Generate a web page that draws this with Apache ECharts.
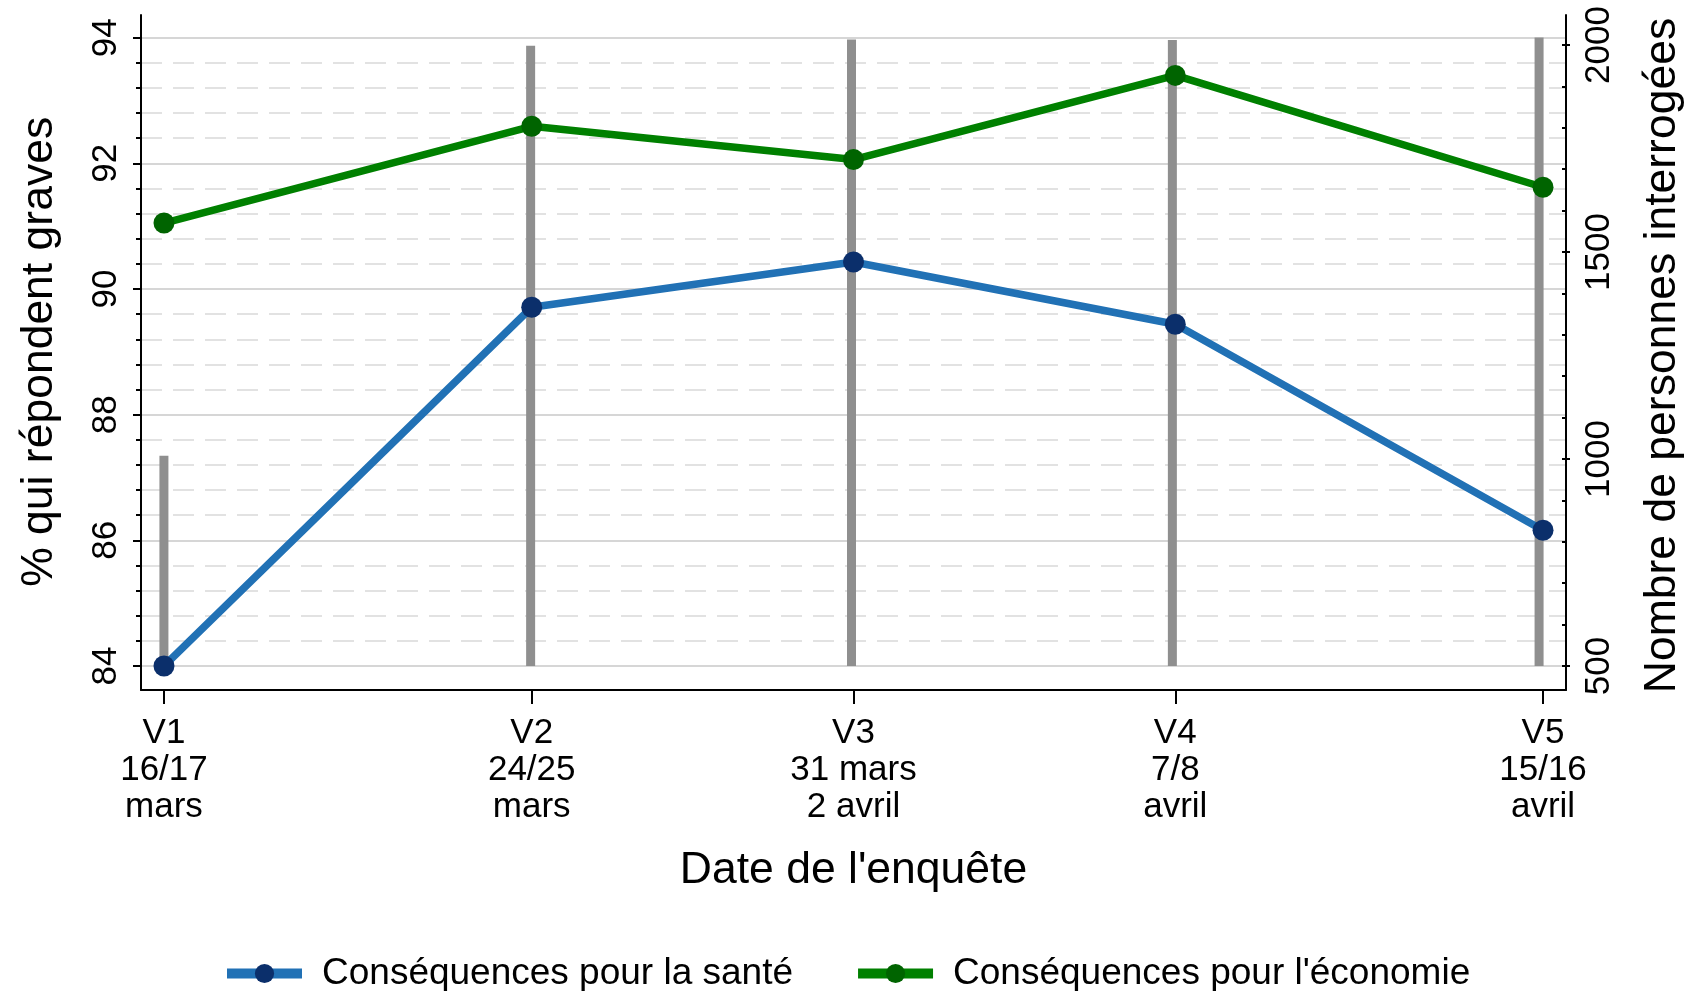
<!DOCTYPE html>
<html>
<head>
<meta charset="utf-8">
<script src="https://cdn.jsdelivr.net/npm/echarts@6/dist/echarts.min.js"></script>
<style>
html,body{margin:0;padding:0;background:#fff;}
#chart{width:1693px;height:991px;}
</style>
</head>
<body>
<div id="chart"></div>
<script>
// Survey waves (x position = day, counted from 1 March)
const waveDays = [17, 25, 32, 39, 47];
const waveLabels = ['V1\n16/17\nmars', 'V2\n24/25\nmars', 'V3\n31 mars\n2 avril', 'V4\n7/8\navril', 'V5\n15/16\navril'];
// % answering "grave"
const santeValues = [84.0, 89.71, 90.43, 89.44, 86.16];
const economieValues = [91.05, 92.59, 92.06, 93.40, 91.62];
// Number of respondents (right axis)
const respondents = [1008, 1998, 2013, 2012, 2018];
const leftTicks = [84, 94, 2];
const rightTicks = [500, 2000, 500];

const FONT = '"Liberation Sans", Arial, Helvetica, sans-serif';
const xMin = 16.5, xMax = 47.5;

const chart = echarts.init(document.getElementById('chart'), null, {renderer: 'canvas'});

const santeData = waveDays.map((d, i) => [d, santeValues[i]]);
const ecoData = waveDays.map((d, i) => [d, economieValues[i]]);
const nData = waveDays.map((d, i) => [d, respondents[i]]);

const option = {
  backgroundColor: '#ffffff',
  animation: false,
  textStyle: {fontFamily: FONT, color: '#000'},
  grid: [
    {left: 141, right: 127, top: 15, bottom: 301},
    {left: 141, right: 127, top: 37.7, bottom: 325},
    {left: 141, right: 127, top: 45, bottom: 325}
  ],
  xAxis: [
    {
      gridIndex: 0, type: 'value', min: xMin, max: xMax,
      axisLine: {show: true, lineStyle: {color: '#000', width: 2}},
      axisTick: {show: true, customValues: waveDays, length: 14, lineStyle: {color: '#000', width: 2}},
      axisLabel: {
        show: true, customValues: waveDays, margin: 25,
        fontSize: 35, lineHeight: 37, color: '#000', fontFamily: FONT, align: 'center',
        formatter: v => waveLabels[waveDays.indexOf(v)]
      },
      splitLine: {show: false},
      name: "Date de l'enquête", nameLocation: 'middle', nameGap: 158,
      nameTextStyle: {fontSize: 44.5, color: '#000', fontFamily: FONT}
    },
    {gridIndex: 1, type: 'value', min: xMin, max: xMax, show: false},
    {gridIndex: 2, type: 'value', min: xMin, max: xMax, show: false}
  ],
  yAxis: [
    {gridIndex: 0, type: 'value', position: 'left', min: 0, max: 1,
      axisLine: {show: true, lineStyle: {color: '#000', width: 2}},
      axisTick: {show: false}, axisLabel: {show: false}, splitLine: {show: false}},
    {gridIndex: 0, type: 'value', position: 'right', min: 0, max: 1,
      axisLine: {show: true, lineStyle: {color: '#000', width: 2}},
      axisTick: {show: false}, axisLabel: {show: false}, splitLine: {show: false}},
    {
      gridIndex: 1, type: 'value', position: 'left',
      min: leftTicks[0], max: leftTicks[1], interval: leftTicks[2],
      axisLine: {show: false},
      axisTick: {show: true, length: 8, lineStyle: {color: '#000', width: 2}},
      minorTick: {show: true, splitNumber: 5, length: 5, lineStyle: {color: '#000', width: 2}},
      axisLabel: {show: true, rotate: 90, margin: 17, fontSize: 35, color: '#000', fontFamily: FONT},
      splitLine: {show: true, lineStyle: {color: '#c8c8c8', width: 1.5}},
      minorSplitLine: {show: true, lineStyle: {color: '#e2e2e2', width: 2, type: [21, 11]}},
      name: '% qui répondent graves', nameLocation: 'middle', nameGap: 79, nameRotate: 90,
      nameTextStyle: {fontSize: 44.5, color: '#000', fontFamily: FONT}
    },
    {
      gridIndex: 2, type: 'value', position: 'right',
      min: rightTicks[0], max: rightTicks[1], interval: rightTicks[2],
      axisLine: {show: false},
      axisTick: {show: true, length: 8, lineStyle: {color: '#000', width: 2}},
      minorTick: {show: true, splitNumber: 5, length: 5, lineStyle: {color: '#000', width: 2}},
      axisLabel: {show: true, rotate: 90, margin: 20, fontSize: 35, color: '#000', fontFamily: FONT,
        formatter: v => String(v)},
      splitLine: {show: false},
      name: 'Nombre de personnes interrogées', nameLocation: 'middle', nameGap: 78, nameRotate: 90,
      nameTextStyle: {fontSize: 44.5, color: '#000', fontFamily: FONT}
    }
  ],
  legend: {
    data: ['Conséquences pour la santé', "Conséquences pour l'économie"],
    left: 217, top: 950,
    itemWidth: 75, itemHeight: 24, itemGap: 60,
    textStyle: {fontSize: 37, color: '#000', fontFamily: FONT, padding: [0, 0, 0, 15]},
    lineStyle: {width: 10}
  },
  series: [
    {
      name: 'Personnes interrogées', type: 'custom', xAxisIndex: 2, yAxisIndex: 3,
      clip: false, z: 1,
      data: nData,
      renderItem: function (params, api) {
        const top = api.coord([api.value(0), api.value(1)]);
        const base = api.coord([api.value(0), rightTicks[0]]);
        return {
          type: 'rect',
          shape: {x: top[0] - 4.5, y: top[1], width: 9, height: base[1] - top[1]},
          style: {fill: '#8f8f8f'}
        };
      }
    },
    {
      name: 'Conséquences pour la santé', type: 'line', xAxisIndex: 1, yAxisIndex: 2,
      data: santeData, z: 3,
      symbol: 'circle', symbolSize: 21,
      lineStyle: {color: '#2171b5', width: 7.5},
      itemStyle: {color: '#0b2f6b'}
    },
    {
      name: "Conséquences pour l'économie", type: 'line', xAxisIndex: 1, yAxisIndex: 2,
      data: ecoData, z: 3,
      symbol: 'circle', symbolSize: 21,
      lineStyle: {color: '#008000', width: 7.5},
      itemStyle: {color: '#006400'}
    }
  ]
};
chart.setOption(option);
</script>
</body>
</html>
